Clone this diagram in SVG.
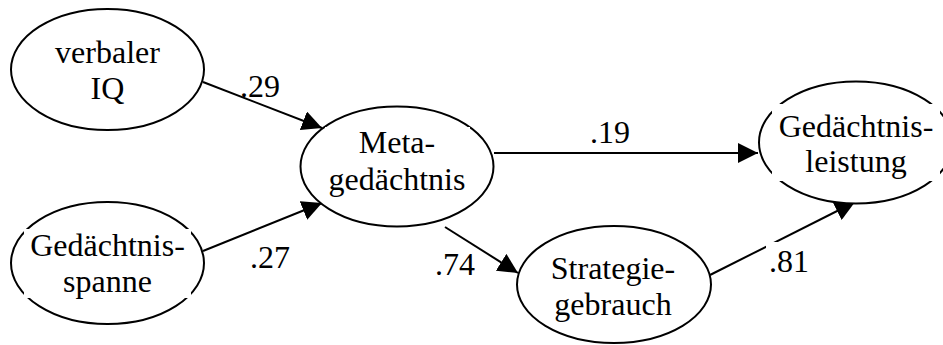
<svg xmlns="http://www.w3.org/2000/svg" width="943" height="345" viewBox="0 0 943 345">
  <style>
    .node { fill: #ffffff; stroke: #000000; stroke-width: 2; }
    .tb { fill: #ffffff; stroke: none; }
    .edge { fill: none; stroke: #000000; stroke-width: 2; marker-end: url(#arrow); }
    text { font-family: 'Times New Roman', 'Liberation Serif', Tinos, serif; font-size: 32px; fill: #000000; }
    .mid { text-anchor: middle; }
  </style>
  <defs>
    <marker id="arrow" markerUnits="userSpaceOnUse" markerWidth="20" markerHeight="20" refX="20" refY="10" orient="auto">
      <path d="M0,0 L20,10 L0,20 Z" fill="#000000"/>
    </marker>
  </defs>
  <rect width="943" height="345" fill="#ffffff"/>

  <!-- path coefficients -->
  <g id="connectors">
    <line class="edge" x1="203" y1="82" x2="322" y2="128"/>
    <line class="edge" x1="203" y1="251" x2="322" y2="203"/>
    <line class="edge" x1="494" y1="153" x2="758" y2="153"/>
    <line class="edge" x1="445" y1="227" x2="518" y2="273"/>
    <line class="edge" x1="710" y1="275" x2="855" y2="202"/>
    <text x="240" y="97">.29</text>
    <text x="250" y="268">.27</text>
    <text x="590" y="143">.19</text>
    <text x="435" y="275">.74</text>
    <rect class="tb" x="766" y="242" width="46" height="38"/>
    <text x="769" y="272">.81</text>
  </g>

  <g id="verbaler-iq">
    <ellipse class="node" cx="107.5" cy="69.5" rx="96.5" ry="60.5"/>
    <text class="mid" x="107.5" y="63">verbaler</text>
    <text class="mid" x="107.5" y="99">IQ</text>
  </g>

  <g id="gedaechtnisspanne">
    <ellipse class="node" cx="107.5" cy="263" rx="96.5" ry="61"/>
    <rect class="tb" x="24" y="229" width="167" height="69"/>
    <text class="mid" x="107.5" y="256">Gedächtnis-</text>
    <text class="mid" x="107.5" y="292">spanne</text>
  </g>

  <g id="metagedaechtnis">
    <ellipse class="node" cx="397" cy="166.5" rx="96.5" ry="60"/>
    <rect class="tb" x="325" y="127" width="145" height="73"/>
    <text class="mid" x="397" y="153">Meta-</text>
    <text class="mid" x="397" y="190">gedächtnis</text>
  </g>

  <g id="strategiegebrauch">
    <ellipse class="node" cx="614" cy="284.5" rx="97" ry="58.5"/>
    <text class="mid" x="613" y="279">Strategie-</text>
    <text class="mid" x="613" y="315">gebrauch</text>
  </g>

  <g id="gedaechtnisleistung">
    <ellipse class="node" cx="856" cy="142.5" rx="97" ry="61"/>
    <rect class="tb" x="772" y="104" width="168" height="77"/>
    <text class="mid" x="856" y="137">Gedächtnis-</text>
    <text class="mid" x="856" y="172">leistung</text>
  </g>
</svg>
